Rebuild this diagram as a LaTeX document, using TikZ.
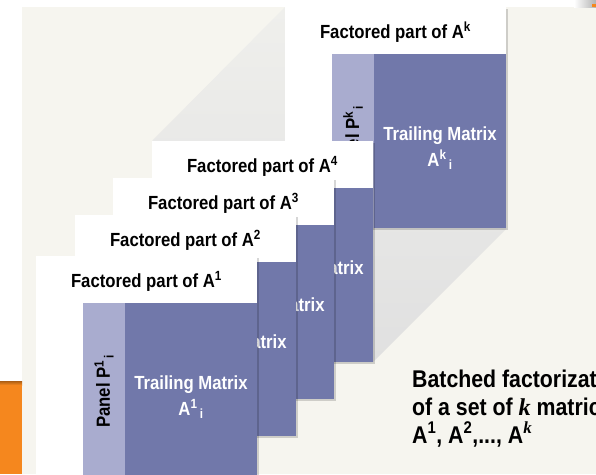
\documentclass[tikz,border=0pt]{standalone}
\usepackage{fontspec}
\setmainfont{Liberation Sans}[FakeStretch=0.88]
\newfontfamily\kserif{Liberation Serif}
\definecolor{beige}{HTML}{F6F5EF}
\definecolor{trailc}{HTML}{7178AA}
\definecolor{panelc}{HTML}{A9ACCF}
\definecolor{orangec}{HTML}{F5871E}
\definecolor{hullA}{HTML}{EFEFEC}
\definecolor{hullB}{HTML}{E0E0E0}
\tikzset{
  boxshadow/.style={fill=black,opacity=0.16},
  bandtext/.style={anchor=base,inner sep=0pt,font=\bfseries\fontsize{19}{22}\selectfont,text=black},
  paneltext/.style={rotate=90,inner sep=0pt,font=\bfseries\fontsize{19}{22}\selectfont,text=black},
  trailtext/.style={anchor=base,inner sep=0pt,font=\bfseries\fontsize{19}{22}\selectfont,text=white},
  batchtext/.style={anchor=base west,inner sep=0pt,font=\bfseries\fontsize{24.2}{28}\selectfont,text=black}
}
\newcommand\ik{{\kserif\itshape k}}
\newcommand\MatBox[4]{%
  \fill[boxshadow] (#2+1.5,#3+1.5) rectangle ++(221,221);
  \fill[white] (#2,#3) rectangle ++(221,221);
  \fill[panelc] (#2+47,#3+47) rectangle (#2+89,#3+221);
  \fill[trailc] (#2+89,#3+47) rectangle (#2+221,#3+221);
  \node[bandtext] (#1f) at (#2+110.5,#3+31) {Factored part of A\textsuperscript{#4}};
  \node[paneltext] (#1p) at (#2+68,#3+135) {Panel P\textsuperscript{#4}\textsubscript{\,i}};
  \node[trailtext] (#1t) at (#2+155,#3+133) {Trailing Matrix};
  \node[trailtext] (#1a) at (#2+155,#3+159) {A\textsuperscript{#4}\textsubscript{\,i}};
}
\begin{document}
\begin{tikzpicture}[x=1pt,y=-1pt]
\clip (0,0) rectangle (596,474);
\fill[white] (0,0) rectangle (596,474);
\fill[beige] (22,7) rectangle (596,474);
% orange strip
\fill[orangec] (0,381) rectangle (22,474);
\shade[top color=orangec!70!black,bottom color=orangec] (0,381) rectangle (22,385);
% top-right fragment
\shade[left color=white,right color=black!30] (574,0) rectangle (596,7);
\fill[orangec] (592,4) rectangle (596,7);
% hull shadow of the stack
\shade[top color=hullA,bottom color=hullB] (152,141) -- (285,7) -- (506,7) -- (506,229) -- (373,362) -- (152,362) -- cycle;
% matrices
\MatBox{k}{285}{7}{k}
\MatBox{d}{152}{141}{4}
\MatBox{c}{113}{178}{3}
\MatBox{b}{75}{215}{2}
\MatBox{a}{36}{256}{1}
% caption
\node[batchtext] (cap1) at (412,387) {Batched factorization};
\node[batchtext] (cap2) at (412,415) {of a set of \ik{} matrices};
\node[batchtext] (cap3) at (412,443) {A\textsuperscript{1}, A\textsuperscript{2},..., A\textsuperscript{\ik}};
\end{tikzpicture}
\end{document}
